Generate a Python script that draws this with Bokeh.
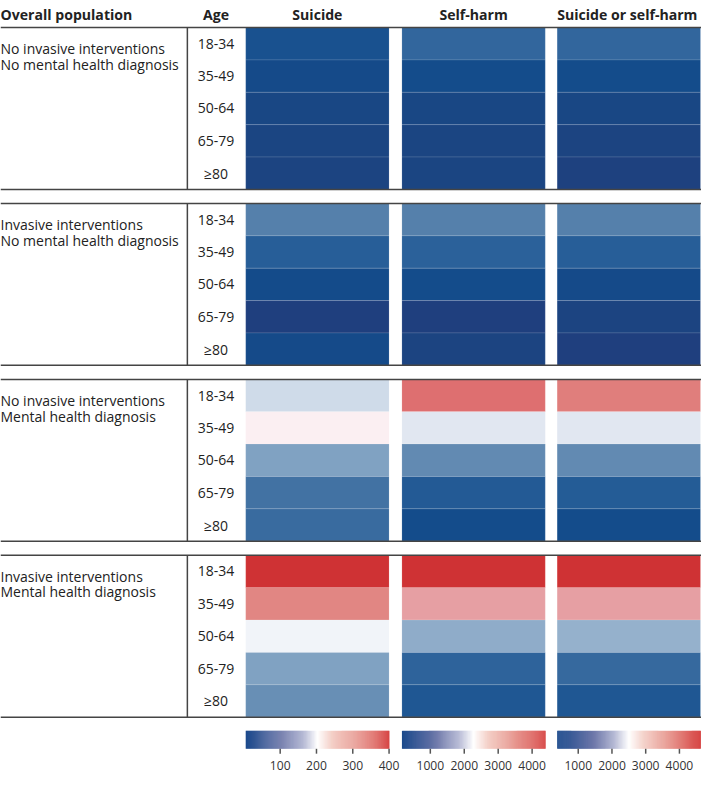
import numpy as np
from bokeh.plotting import figure
from bokeh.models import ColumnDataSource, LinearColorMapper, Range1d
from bokeh.transform import transform
from bokeh.core.properties import value
from bokeh.embed import file_html
from bokeh.resources import INLINE

# ---------------- data ----------------
groups = [
    ["No invasive interventions", "No mental health diagnosis"],
    ["Invasive interventions", "No mental health diagnosis"],
    ["No invasive interventions", "Mental health diagnosis"],
    ["Invasive interventions", "Mental health diagnosis"],
]
ages = ["18-34", "35-49", "50-64", "65-79", "\u226580"]
outcomes = ["Suicide", "Self-harm", "Suicide or self-harm"]

suicide = [
    [45, 29, 21, 17, 13],
    [120, 72, 31, 6, 29],
    [187, 214, 155, 100, 90],
    [400, 305, 197, 155, 135],
]
self_harm = [
    [1010, 460, 335, 295, 285],
    [1388, 924, 459, 165, 270],
    [3670, 2149, 1515, 797, 459],
    [4388, 3078, 1895, 966, 712],
]
suicide_or_self_harm = [
    [1225, 673, 545, 481, 418],
    [1608, 1098, 630, 481, 380],
    [3711, 2373, 1735, 1055, 673],
    [4625, 3308, 2160, 1268, 927],
]
scale_low = [5, 163, 375]
scale_high = [400, 4388, 4625]
bar_ticks = [[100, 200, 300, 400], [1000, 2000, 3000, 4000], [1000, 2000, 3000, 4000]]

# ---------------- style / layout ----------------
W, H = 701, 774
S = 0.982
FONT = "Open Sans"
TXT = "#222222"
LINE = "#444444"

COL_LEFT = [248, 406, 563]
COL_W = 145
TOP0 = 27.7
GROUP_STEP = 180
ROW_H = 33.12
AGE_X = 218
SEP_X = 189
BAR_Y0, BAR_Y1 = 747.3, 765.7


def hex2rgb(h):
    h = h.lstrip("#")
    return [int(h[i:i + 2], 16) for i in (0, 2, 4)]


def make_palette(anchors, n=256):
    ts = [a[0] for a in anchors]
    cols = np.array([hex2rgb(a[1]) for a in anchors], dtype=float)
    out = []
    for t in np.linspace(0, 1, n):
        r = np.interp(t, ts, cols[:, 0])
        g = np.interp(t, ts, cols[:, 1])
        b = np.interp(t, ts, cols[:, 2])
        out.append("#%02x%02x%02x" % (int(round(r)), int(round(g)), int(round(b))))
    return out


cell_palette = make_palette([
    (0.00, "#1f3f7e"), (0.03, "#1b4682"), (0.07, "#134c8c"), (0.17, "#275e98"),
    (0.29, "#5580ab"), (0.38, "#80a2c2"), (0.42, "#95b1cc"), (0.47, "#e0e7f1"),
    (0.50, "#ffffff"), (0.53, "#fbeff2"), (0.69, "#e69fa3"), (0.76, "#e18683"),
    (0.83, "#de6f70"), (1.00, "#cf3234"),
])
bar_palette = make_palette([
    (0.00, "#1c4a8c"), (0.25, "#6d77a9"), (0.40, "#b3b7d3"), (0.50, "#ffffff"),
    (0.60, "#f4d0c8"), (0.75, "#eaa69e"), (0.90, "#df6d68"), (1.00, "#d53f3e"),
])

p = figure(width=W, height=H, output_backend="svg", toolbar_location=None,
           x_range=Range1d(0, 709), y_range=Range1d(792, 0),
           min_border=0, min_border_left=0, min_border_right=0,
           min_border_top=0, min_border_bottom=0)
p.axis.visible = False
p.grid.visible = False
p.outline_line_color = None
p.background_fill_color = "white"
p.border_fill_color = "white"

# headers
hdr_x = [0, AGE_X] + [c + COL_W / 2 for c in COL_LEFT]
hdr_x[-1] -= 1.5
hdr_t = ["Overall population", "Age"] + outcomes
hdr_a = ["left", "center", "center", "center", "center"]
p.text(x=hdr_x, y=[14] * 5, text=hdr_t, text_align=hdr_a, text_baseline="alphabetic",
       text_font=value(FONT), text_font_style="bold", text_font_size="%.1fpx" % (14.4 * S),
       text_color=TXT)

all_vals = [suicide, self_harm, suicide_or_self_harm]
for ci, vals in enumerate(all_vals):
    mapper = LinearColorMapper(palette=cell_palette, low=scale_low[ci], high=scale_high[ci])
    xs, ys, vs = [], [], []
    for g in range(len(groups)):
        top = TOP0 + g * GROUP_STEP
        for r in range(len(ages)):
            xs.append(COL_LEFT[ci] + COL_W / 2)
            ys.append(top + (r + 0.5) * ROW_H)
            vs.append(vals[g][r])
    src = ColumnDataSource(dict(x=xs, y=ys, v=vs))
    p.rect(x="x", y="y", width=COL_W, height=ROW_H, source=src,
           fill_color=transform("v", mapper), line_color="white", line_alpha=0.12, line_width=1)

# group labels, age labels, lines
for g, lab in enumerate(groups):
    top = TOP0 + g * GROUP_STEP
    bot = top + ROW_H * len(ages)
    p.text(x=[0, 0], y=[top + 21.5, top + 37.5], text=lab, text_align="left",
           text_baseline="alphabetic", text_font=value(FONT),
           text_font_size="%.1fpx" % (14.3 * S), text_color=TXT)
    p.text(x=[AGE_X] * len(ages), y=[top + (r + 0.5) * ROW_H for r in range(len(ages))],
           text=ages, text_align="center", text_baseline="middle", text_font=value(FONT),
           text_font_size="%.1fpx" % (14.3 * S), text_color=TXT)
    p.segment(x0=[0, 0, SEP_X], y0=[top, bot, top], x1=[709, 709, SEP_X], y1=[top, bot, bot],
              line_color=LINE, line_width=1.5)

# colour bars
for ci in range(3):
    lo, hi = scale_low[ci], scale_high[ci]
    bmap = LinearColorMapper(palette=bar_palette, low=lo, high=hi)
    n = 145
    edges = np.linspace(lo, hi, n + 1)
    left = COL_LEFT[ci] + (edges[:-1] - lo) / (hi - lo) * COL_W
    right = COL_LEFT[ci] + (edges[1:] - lo) / (hi - lo) * COL_W + 0.4
    mids = (edges[:-1] + edges[1:]) / 2
    bsrc = ColumnDataSource(dict(l=left, r=right, v=mids))
    p.quad(left="l", right="r", top=BAR_Y0, bottom=BAR_Y1, source=bsrc,
           fill_color=transform("v", bmap), line_color=None)
    tx = [COL_LEFT[ci] + (t - lo) / (hi - lo) * COL_W for t in bar_ticks[ci]]
    p.segment(x0=tx, y0=[BAR_Y1] * len(tx), x1=tx, y1=[BAR_Y1 + 5] * len(tx),
              line_color="#555555", line_width=1.5)
    p.text(x=tx, y=[783] * len(tx), text=[str(t) for t in bar_ticks[ci]],
           text_align="center", text_baseline="alphabetic", text_font=value(FONT),
           text_font_size="%.1fpx" % (12.3 * S), text_color="#333333")

open("out.html", "w").write(file_html(p, INLINE))
